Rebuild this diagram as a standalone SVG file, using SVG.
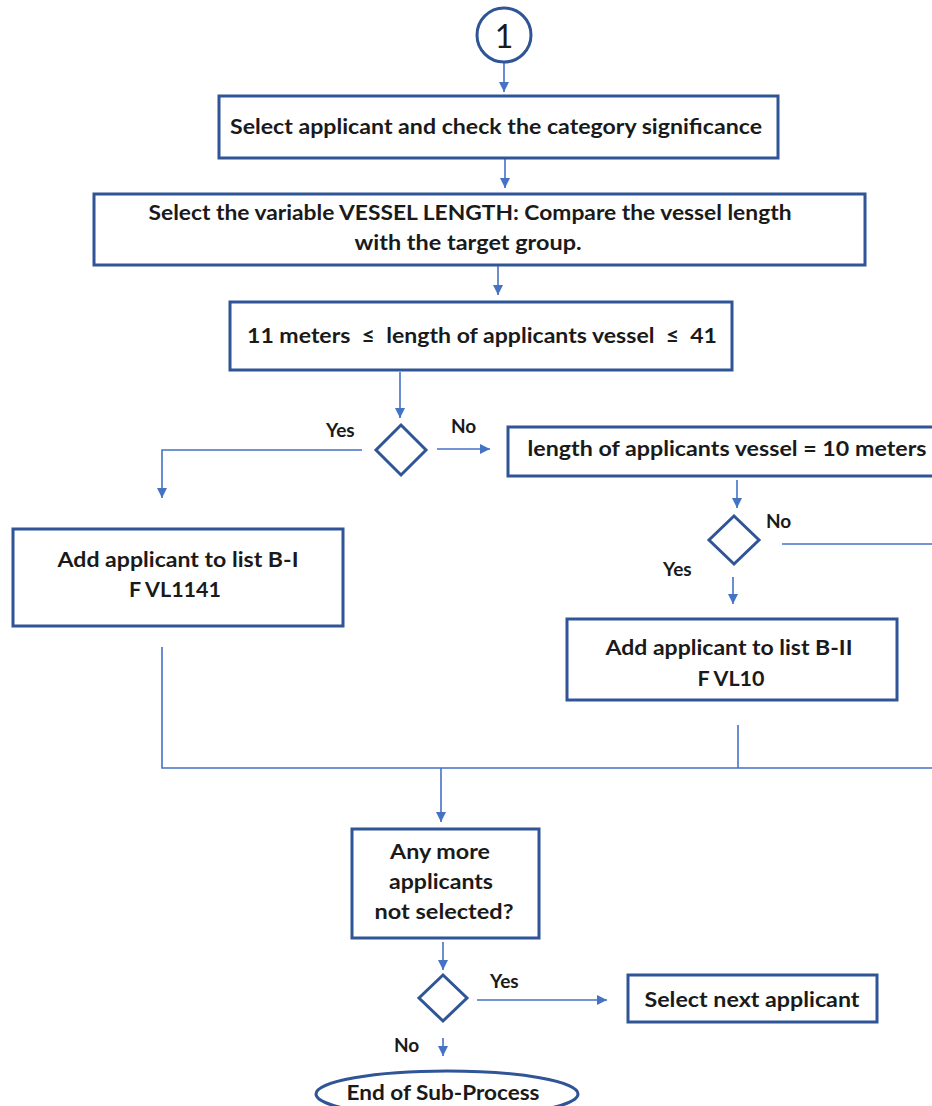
<svg xmlns="http://www.w3.org/2000/svg" width="932" height="1106" viewBox="0 0 932 1106">
<style>
.box{fill:#ffffff;stroke:#2F5597;stroke-width:3}
.conn{fill:none;stroke:#4472C4;stroke-width:1.6}
.t{font-family:Lato,"Liberation Sans",sans-serif;font-weight:bold;font-size:20px;fill:#1a1a1a;text-anchor:middle;white-space:pre}
.lbl{font-family:Lato,"Liberation Sans",sans-serif;font-weight:bold;font-size:19px;fill:#1a1a1a}
</style>
<defs>
<marker id="arr" markerUnits="userSpaceOnUse" markerWidth="11" markerHeight="11" refX="10" refY="5" orient="auto">
<path d="M0,0 L10,5 L0,10 z" fill="#4472C4"/>
</marker>
</defs>
<rect width="932" height="1106" fill="#ffffff"/>

<g id="connectors">
<line class="conn" x1="504" y1="63" x2="504" y2="92" marker-end="url(#arr)"/>
<line class="conn" x1="505" y1="159" x2="505" y2="188" marker-end="url(#arr)"/>
<line class="conn" x1="498" y1="266" x2="498" y2="295" marker-end="url(#arr)"/>
<line class="conn" x1="400" y1="372" x2="400" y2="418" marker-end="url(#arr)"/>
<polyline class="conn" points="362,450 162,450 162,498" marker-end="url(#arr)"/>
<line class="conn" x1="437" y1="449" x2="490" y2="449" marker-end="url(#arr)"/>
<line class="conn" x1="737" y1="480" x2="737" y2="508" marker-end="url(#arr)"/>
<line class="conn" x1="782" y1="544" x2="934" y2="544"/>
<line class="conn" x1="733" y1="577" x2="733" y2="604" marker-end="url(#arr)"/>
<polyline class="conn" points="162,647 162,768 934,768"/>
<line class="conn" x1="738" y1="725" x2="738" y2="768"/>
<line class="conn" x1="441" y1="768" x2="441" y2="822" marker-end="url(#arr)"/>
<line class="conn" x1="443" y1="942" x2="443" y2="970" marker-end="url(#arr)"/>
<line class="conn" x1="477" y1="1000" x2="607" y2="1000" marker-end="url(#arr)"/>
<line class="conn" x1="443" y1="1038" x2="443" y2="1056" marker-end="url(#arr)"/>
</g>

<g id="start">
<circle cx="504" cy="35" r="27" fill="#ffffff" stroke="#2F5597" stroke-width="3"/>
<text x="504" y="48" font-family="Lato,'Liberation Sans',sans-serif" font-size="32" fill="#1a1a1a" text-anchor="middle">1</text>
</g>

<g id="select-applicant">
<rect class="box" x="219" y="96" width="559" height="62"/>
<text class="t" x="496" y="134" textLength="532" lengthAdjust="spacingAndGlyphs">Select applicant and check the category significance</text>
</g>

<g id="vessel-length">
<rect class="box" x="94" y="194" width="771" height="71"/>
<text class="t" x="470" y="220" textLength="643" lengthAdjust="spacingAndGlyphs">Select the variable VESSEL LENGTH: Compare the vessel length</text>
<text class="t" x="468" y="250" textLength="227" lengthAdjust="spacingAndGlyphs">with the target group.</text>
</g>

<g id="range-check">
<rect class="box" x="230" y="302" width="502" height="68"/>
<text class="t" x="482" y="343" textLength="470" lengthAdjust="spacingAndGlyphs" xml:space="preserve">11 meters  ≤  length of applicants vessel  ≤  41</text>
</g>

<g id="decision-1">
<polygon class="box" points="401,425 426,450 401,475 376,450"/>
<text class="lbl" x="326" y="437">Yes</text>
<text class="lbl" x="451" y="433">No</text>
</g>

<g id="ten-meters">
<rect class="box" x="508" y="427" width="440" height="49"/>
<text class="t" x="727" y="456" textLength="399" lengthAdjust="spacingAndGlyphs">length of applicants vessel = 10 meters</text>
</g>

<g id="decision-2">
<polygon class="box" points="734,516 759,540 734,564 709,540"/>
<text class="lbl" x="766" y="528">No</text>
<text class="lbl" x="663" y="576">Yes</text>
</g>

<g id="list-b1">
<rect class="box" x="13" y="529" width="330" height="97"/>
<text class="t" x="178" y="567" textLength="241" lengthAdjust="spacingAndGlyphs">Add applicant to list B-I</text>
<text class="t" x="175" y="597" textLength="92" lengthAdjust="spacingAndGlyphs">F VL1141</text>
</g>

<g id="list-b2">
<rect class="box" x="567" y="619" width="330" height="81"/>
<text class="t" x="729" y="655" textLength="247" lengthAdjust="spacingAndGlyphs">Add applicant to list B-II</text>
<text class="t" x="731" y="686" textLength="67" lengthAdjust="spacingAndGlyphs">F VL10</text>
</g>

<g id="any-more">
<rect class="box" x="352" y="829" width="187" height="109"/>
<text class="t" x="440" y="859" textLength="100" lengthAdjust="spacingAndGlyphs">Any more</text>
<text class="t" x="441" y="889" textLength="104" lengthAdjust="spacingAndGlyphs">applicants</text>
<text class="t" x="444" y="919" textLength="139" lengthAdjust="spacingAndGlyphs">not selected?</text>
</g>

<g id="decision-3">
<polygon class="box" points="443,975 467,998 443,1021 419,998"/>
<text class="lbl" x="490" y="988">Yes</text>
<text class="lbl" x="394" y="1052">No</text>
</g>

<g id="next-applicant">
<rect class="box" x="628" y="975" width="249" height="47"/>
<text class="t" x="752" y="1007" textLength="215" lengthAdjust="spacingAndGlyphs">Select next applicant</text>
</g>

<g id="end">
<ellipse cx="447" cy="1094" rx="131" ry="23" fill="#ffffff" stroke="#2F5597" stroke-width="3"/>
<text class="t" x="443" y="1100" textLength="193" lengthAdjust="spacingAndGlyphs">End of Sub-Process</text>
</g>
</svg>
